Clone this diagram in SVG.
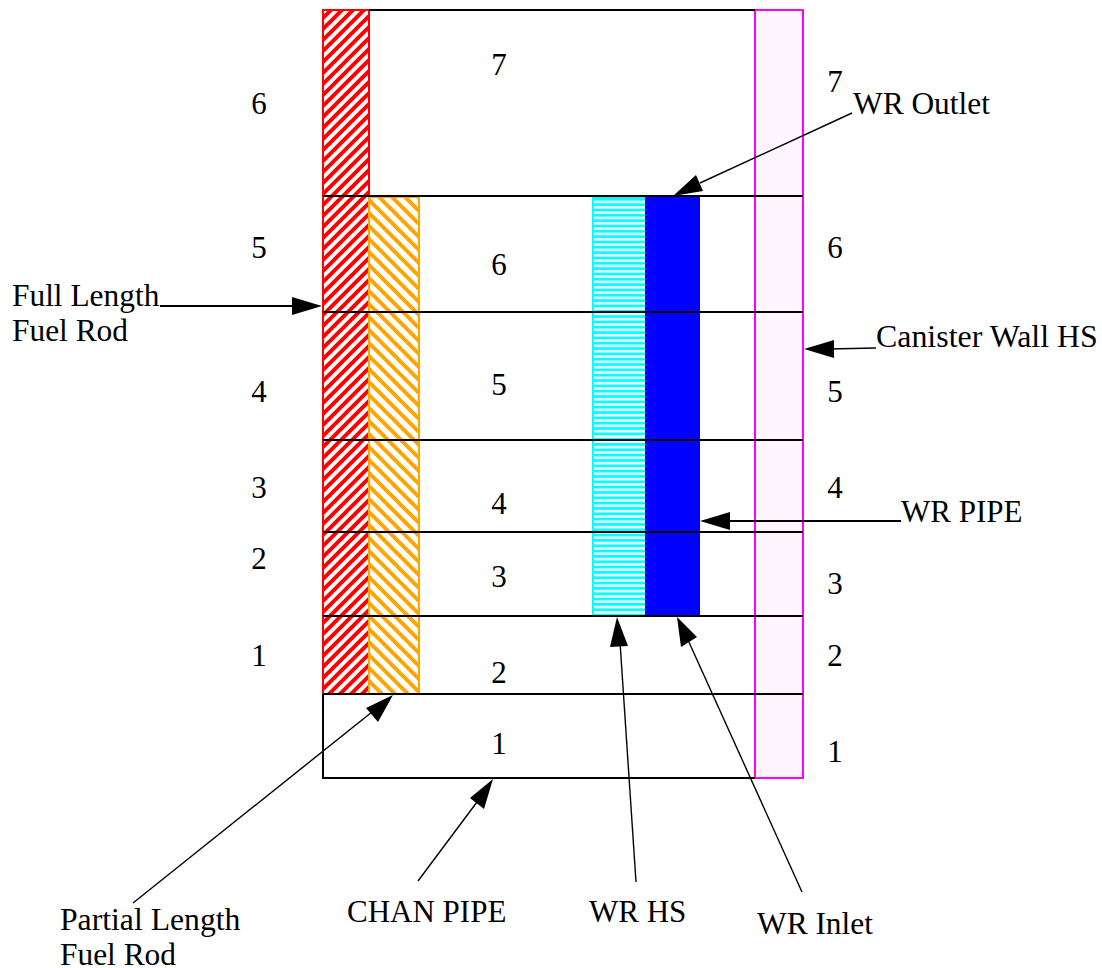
<svg xmlns="http://www.w3.org/2000/svg" width="1102" height="968" viewBox="0 0 1102 968">
<style>
text{font-family:"Liberation Serif","Times New Roman",serif;font-size:31px;fill:#000}
.m{font-size:31.4px}
.l{stroke:#000;stroke-width:2;fill:none}
.a{stroke:#000;stroke-width:1.4;fill:none}
.b{stroke:#000;stroke-width:2;fill:none}
.h{fill:#000;stroke:none}
</style>
<defs>
<pattern id="pr" width="11" height="11" patternUnits="userSpaceOnUse"><rect width="11" height="11" fill="#fff"/><path d="M-3 3L3 -3M-3 14L14 -3M8 14L14 8" stroke="#f00" stroke-width="4"/></pattern>
<pattern id="po" width="13" height="13" patternUnits="userSpaceOnUse"><rect width="13" height="13" fill="#fff"/><path d="M-3 10L3 16M-3 -3L16 16M10 -3L16 3" stroke="#ffa500" stroke-width="4"/></pattern>
<pattern id="pc" width="10" height="5.33" patternUnits="userSpaceOnUse" y="198"><rect width="10" height="5.33" fill="#e4ffff"/><rect y="0" width="10" height="2.6" fill="#0ff"/></pattern>
</defs>
<g id="fuel-rod-full"><rect x="323" y="10" width="46" height="684" fill="url(#pr)" stroke="#f00" stroke-width="2"/></g>
<g id="fuel-rod-partial"><rect x="369" y="197" width="50" height="497" fill="url(#po)" stroke="#ffa500" stroke-width="2"/></g>
<g id="wr-hs"><rect x="593" y="197" width="53" height="419" fill="url(#pc)" stroke="#0ff" stroke-width="2"/></g>
<g id="wr-pipe"><rect x="645" y="197" width="55" height="419" fill="#00f"/></g>
<g id="canister-wall"><rect x="755" y="10" width="48" height="768" fill="#fff5ff" stroke="#f0f" stroke-width="2"/></g>
<g id="chan-grid">
<path class="l" d="M369 10H755M323 196H803M323 312H803M323 440H803M323 532H803M323 616H803M323 694H803M323 694V778H755"/>
</g>
<g id="connectors">
<path class="a" d="M852 113L700 183"/><polygon class="h" points="673,196 696,175 703,191"/>
<path class="b" d="M160 306H298"/><polygon class="h" points="322,306 292,297 292,315"/>
<path class="a" d="M876 348L828 349"/><polygon class="h" points="804,349 834,340 834,358"/>
<path class="b" d="M901 521H724"/><polygon class="h" points="700,521 730,512 730,530"/>
<path class="a" d="M133 903L372 712"/><polygon class="h" points="393,695 378,722 366,708"/>
<path class="a" d="M418 881L477 802"/><polygon class="h" points="493,779 484,809 470,798"/>
<path class="a" d="M636 882L620 642"/><polygon class="h" points="617,617 628,646 610,647"/>
<path class="a" d="M802 892L688 640"/><polygon class="h" points="677,617 697,637 681,647"/>
</g>
<g id="labels">
<text x="499" y="75" text-anchor="middle">7</text><text x="499" y="275" text-anchor="middle">6</text><text x="499" y="395" text-anchor="middle">5</text><text x="499" y="514" text-anchor="middle">4</text><text x="499" y="587" text-anchor="middle">3</text><text x="499" y="683" text-anchor="middle">2</text><text x="499" y="754" text-anchor="middle">1</text>
<text x="259" y="114" text-anchor="middle">6</text><text x="259" y="258" text-anchor="middle">5</text><text x="259" y="402" text-anchor="middle">4</text><text x="259" y="498" text-anchor="middle">3</text><text x="259" y="569" text-anchor="middle">2</text><text x="259" y="666" text-anchor="middle">1</text>
<text x="835" y="92" text-anchor="middle">7</text><text x="835" y="258" text-anchor="middle">6</text><text x="835" y="402" text-anchor="middle">5</text><text x="835" y="498" text-anchor="middle">4</text><text x="835" y="594" text-anchor="middle">3</text><text x="835" y="666" text-anchor="middle">2</text><text x="835" y="762" text-anchor="middle">1</text>
<text class="m" x="853" y="114">WR Outlet</text>
<text class="m" x="12" y="306">Full Length</text><text class="m" x="12" y="341">Fuel Rod</text>
<text x="876" y="347" style="font-size:31.9px">Canister Wall HS</text>
<text x="901" y="522">WR PIPE</text>
<text x="60" y="930" style="font-size:31.7px">Partial Length</text><text class="m" x="60" y="965">Fuel Rod</text>
<text x="347" y="922">CHAN PIPE</text>
<text x="589" y="922">WR HS</text>
<text class="m" x="757" y="934">WR Inlet</text>
</g>
</svg>
